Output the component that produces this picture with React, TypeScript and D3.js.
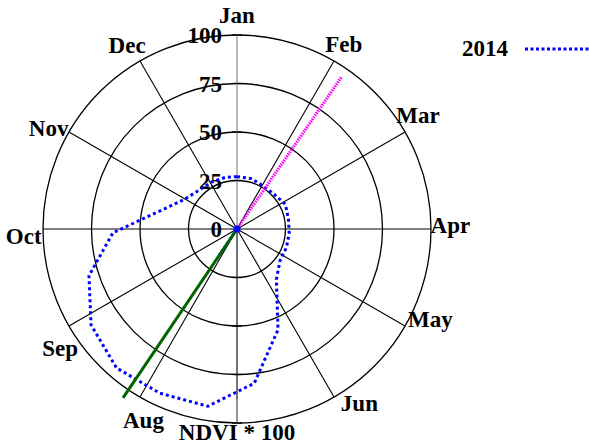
import React from 'react';
import * as d3 from 'd3';

// 16-day composite days of 2014 and NDVI * 100
const days = [1, 17, 33, 49, 65, 81, 97, 113, 129, 145, 161, 177, 193, 209, 225, 241, 257, 273, 289, 305, 321, 337, 353];
const ndvi = [27, 27, 26, 26.2, 28, 27, 27, 27.2, 27.5, 33, 56, 80, 92.6, 93.5, 94.8, 90, 80, 64, 40, 31, 28, 27.5, 27.3];

const months = ['Jan', 'Feb', 'Mar', 'Apr', 'May', 'Jun', 'Jul', 'Aug', 'Sep', 'Oct', 'Nov', 'Dec'];
// where each month name sits (degrees clockwise from north); Jul is covered by the axis title
const monthLabelDeg = [0, 30, 58, 89, 115, 145, 180, 206, 236, 268, 298, 329];
const ringTicks = [0, 25, 50, 75, 100];

// direction vectors (day, length)
const vectorDays = [36, 218, 218];
const vectorValues = [95, 16, 105];
const vectorColors = ['#ff00ff', '#0000ff', '#006400'];
const vectorDash = ['1.5 1', '3 2', null];

const W = 589;
const H = 445;
const cx = 237;
const cy = 229;
const R = 194;
const font = '"Liberation Serif", "Times New Roman", serif';

export default function App() {
  const angle = d3.scaleLinear().domain([1, 366]).range([0, 2 * Math.PI]);
  const rad = d3.scaleLinear().domain([0, 100]).range([0, R]);

  const pt = (a: number, r: number) => [Math.sin(a) * r, -Math.cos(a) * r];

  const curve = d3.lineRadial<number>()
    .angle((d, i) => angle(days[i]))
    .radius(d => rad(d))
    .curve(d3.curveLinearClosed);

  return (
    <svg width={W} height={H} style={{ position: 'absolute', left: 0, top: 0, background: '#fff' }}>
      <g transform={`translate(${cx},${cy})`}>
        {ringTicks.slice(1).map(t => (
          <circle key={t} r={rad(t)} fill="none" stroke="#000" strokeWidth={1.3} />
        ))}
        {/* spokes at every 30 degrees */}
        {months.map((m, i) => {
          if (i === 0) return null;
          const [x, y] = pt((i * Math.PI) / 6, R);
          return <line key={m} x1={0} y1={0} x2={x} y2={y} stroke="#000" strokeWidth={1.1} />;
        })}
        <line x1={0} y1={-R} x2={0} y2={0} stroke="#a0a0a0" strokeWidth={1.5} />
        <line x1={0} y1={R - 24} x2={0} y2={R} stroke="#a0a0a0" strokeWidth={1.5} />
        {ringTicks.slice(1).map(t => (
          <g key={'tk' + t}>
            <line x1={-5} x2={5} y1={-rad(t)} y2={-rad(t)} stroke="#000" strokeWidth={1.2} />
            <line x1={-5} x2={5} y1={rad(t)} y2={rad(t)} stroke="#000" strokeWidth={1.2} />
          </g>
        ))}
        {ringTicks.map(t => (
          <text key={'lb' + t} x={-15} y={-rad(t)} dy="0.35em" textAnchor="end"
            fontFamily={font} fontWeight="bold" fontSize={23}>{t}</text>
        ))}
        {months.map((m, i) => {
          if (m === 'Jul') return null;
          const [x, y] = pt((monthLabelDeg[i] * Math.PI) / 180, R * 1.1);
          return (
            <text key={'m' + m} x={x} y={y} dy="0.32em" textAnchor="middle"
              fontFamily={font} fontWeight="bold" fontSize={23}>{m}</text>
          );
        })}
        <path d={curve(ndvi) || ''} fill="none" stroke="#0000ff" strokeWidth={3} strokeDasharray="3 3" />
        {vectorDays.map((d, i) => {
          const [x, y] = pt(angle(d), rad(vectorValues[i]));
          return (
            <line key={'v' + i} x1={0} y1={0} x2={x} y2={y} stroke={vectorColors[i]}
              strokeWidth={3} strokeDasharray={vectorDash[i] || undefined} />
          );
        })}
        <circle r={3.5} fill="#0000ff" />
        <text x={0} y={R + 17} textAnchor="middle" fontFamily={font} fontWeight="bold" fontSize={23}>NDVI * 100</text>
      </g>
      <text x={462} y={56} fontFamily={font} fontWeight="bold" fontSize={23}>2014</text>
      <line x1={525} x2={600} y1={49} y2={49} stroke="#0000ff" strokeWidth={3} strokeDasharray="3 2.5" />
    </svg>
  );
}
